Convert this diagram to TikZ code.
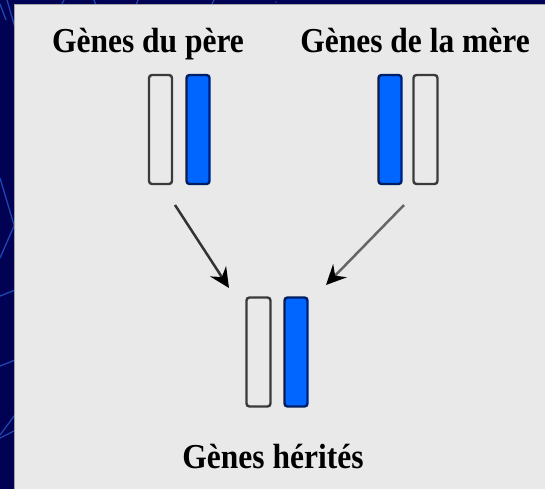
\documentclass[tikz,border=0pt]{standalone}
\usepackage{fontspec}
\setmainfont{Liberation Serif}
\usetikzlibrary{arrows.meta}
\definecolor{navy}{RGB}{2,2,84}
\definecolor{streak}{RGB}{30,70,175}
\definecolor{panel}{RGB}{233,233,233}
\definecolor{chromblue}{RGB}{0,102,255}
\definecolor{chromedge}{RGB}{0,30,100}
\definecolor{greyedge}{RGB}{58,58,58}
\tikzset{
  x=1pt, y=-1pt,
  label/.style={font=\fontsize{35}{40}\selectfont\bfseries, anchor=base, inner sep=0pt},
  chrom/.style={rectangle, inner sep=0pt, minimum width=23pt, minimum height=109pt,
    line width=2.4pt, rounded corners=3pt},
  pale/.style={chrom, draw=greyedge, fill=panel},
  blue/.style={chrom, draw=chromedge, fill=chromblue},
  inherit/.style={line width=2.5pt,
    -{Stealth[length=20pt,width=19pt,inset=7pt,fill=black,color=black]}},
}
\begin{document}
\begin{tikzpicture}
\useasboundingbox (0,0) rectangle (545,489);
\clip (0,0) rectangle (545,489);
% dark backdrop with faint streaks
\fill[navy] (0,0) rectangle (545,489);
\begin{scope}[draw=streak, line width=1.3pt]
  \draw (7,0) -- (20,45);
  \draw (0,178) -- (20,245);
  \draw (14,226) -- (0,258);
  \draw (0,296) -- (20,288);
  \draw (0,366) -- (20,358);
  \draw (0,435) -- (20,408);
  \draw (0,438) -- (20,428);
  \draw (0,4) -- (6,20);
  \draw (64,0) -- (60,8);
  \draw (94,0) -- (97,8);
  \draw (138,0) -- (135,8);
  \draw (214,0) -- (210,8);
  \fill[streak] (276,2) circle (0.8);
\end{scope}
% light panel
\fill[panel] (14,4.5) rectangle (545,489);
\draw[color=black!35, line width=0.8pt] (14,489) -- (14,4.5) -- (545,4.5);

% labels
\node[label] (father) at (148,53) {\scalebox{0.9}[1]{Gènes du père}};
\node[label] (mother) at (415,53) {\scalebox{0.9}[1]{Gènes de la mère}};
\node[label] (child)  at (273,468) {\scalebox{0.9}[1]{Gènes hérités}};

% father's pair
\node[pale] (f1) at (160.5,129.5) {};
\node[blue] (f2) at (198,129.5) {};
% mother's pair
\node[blue] (m1) at (390,129.5) {};
\node[pale, minimum width=24pt] (m2) at (425.5,129.5) {};
% inherited pair
\node[pale, minimum width=24pt] (c1) at (258.5,352) {};
\node[blue] (c2) at (296,352) {};

% arrows
\coordinate (fs) at (175,205);
\coordinate (fe) at (229,288);
\coordinate (ms) at (404,205);
\coordinate (me) at (326,285);
\draw[inherit, draw=black!80] (fs) -- (fe);
\draw[inherit, draw=black!60] (ms) -- (me);
\end{tikzpicture}
\end{document}
